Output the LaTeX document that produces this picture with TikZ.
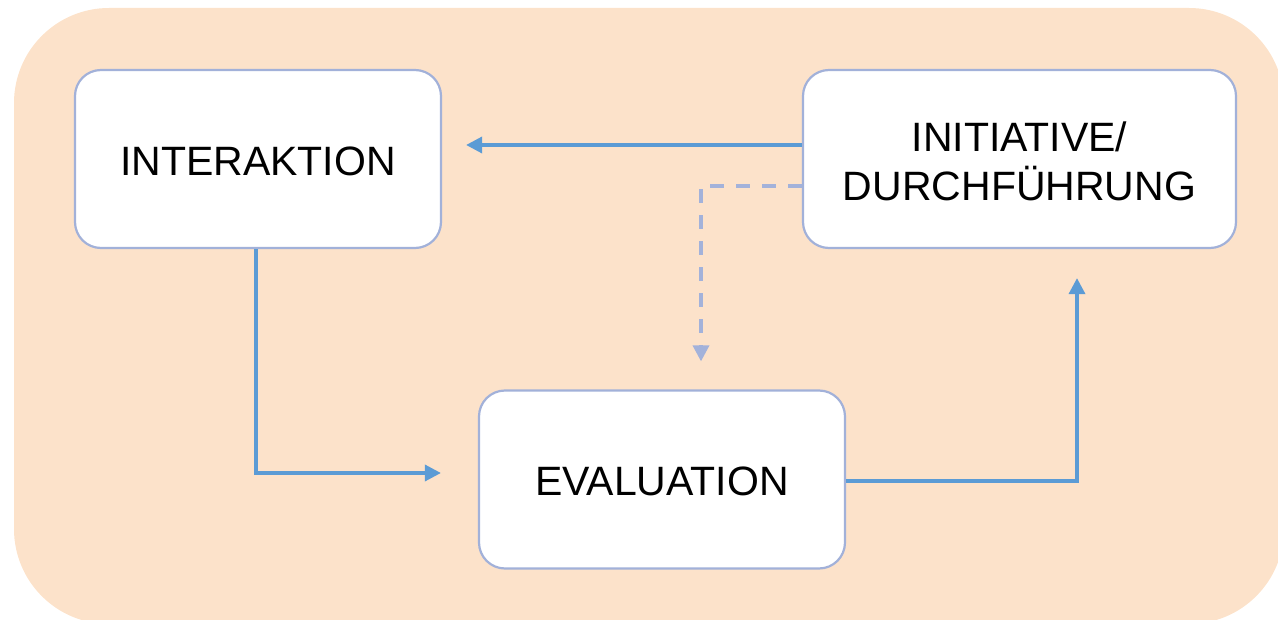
\documentclass[tikz,border=0pt]{standalone}
\usepackage{fontspec}
\setmainfont{Liberation Sans}
\usetikzlibrary{arrows.meta}
\definecolor{panel}{HTML}{FCE2CA}
\definecolor{boxline}{HTML}{A2B1D9}
\definecolor{flow}{HTML}{5B9BD5}
\definecolor{hint}{HTML}{A3B2DA}
\tikzset{
  stage/.style={draw=boxline, line width=2.2pt, fill=white, rounded corners=26pt,
    minimum width=366pt, minimum height=178pt, align=center,
    font=\fontsize{41}{49}\selectfont, inner sep=0pt},
  label/.style={font=\fontsize{41}{49}\selectfont, align=center, inner sep=0pt},
  flowarrow/.style={draw=flow, line width=3.4pt,
    -{Triangle[length=16pt,width=16pt]}},
  hintarrow/.style={draw=hint, line width=3.4pt, dash pattern=on 14pt off 12pt,
    -{Triangle[length=16pt,width=16pt]}}
}
\begin{document}
\begin{tikzpicture}[x=1pt,y=-1pt]
  \useasboundingbox (0,0) rectangle (1278,620);
  % peach panel behind the cycle
  \fill[panel, rounded corners=95pt] (14,8) rectangle (1284,624);

  \node[stage] (inter) at (258,159) {};
  \node[stage, minimum width=433pt] (init) at (1019.5,159) {};
  \node[stage] (eval) at (662,479.5) {};
  \node[label] (interText) at ([yshift=-2pt]inter.center) {INTERAKTION};
  \node[label] (initText) at ([yshift=-2pt]init.center) {INITIATIVE/\\DURCHFÜHRUNG};
  \node[label] (evalText) at ([yshift=-2pt]eval.center) {EVALUATION};

  % cycle connectors
  \draw[flowarrow]
    ([yshift=14pt]init.west) -- ([yshift=14pt,xshift=24pt]inter.east);
  \draw[flowarrow]
    ([xshift=-2pt]inter.south) |- ([yshift=6.5pt,xshift=-37pt]eval.west);
  \draw[flowarrow]
    ([yshift=-1.5pt]eval.east) -| ([xshift=57.5pt,yshift=-29pt]init.south);
  % dashed shortcut
  \draw[hintarrow]
    ([yshift=-27pt]init.west) -| ([xshift=39pt,yshift=28pt]eval.north);
\end{tikzpicture}
\end{document}
